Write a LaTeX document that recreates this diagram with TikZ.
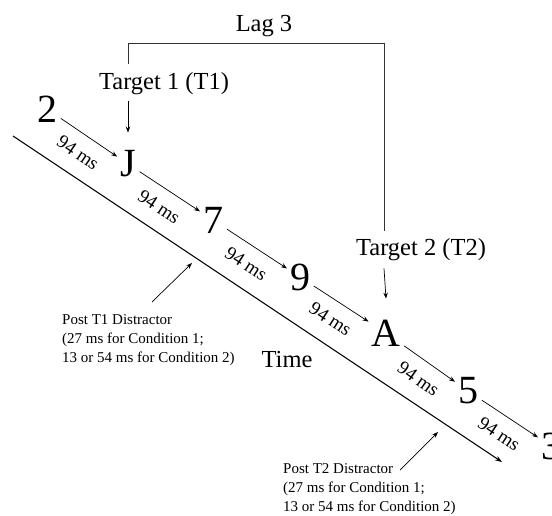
\documentclass[tikz,border=0pt]{standalone}
\usepackage{fontspec}
\setmainfont{Liberation Serif}
\usetikzlibrary{arrows.meta,calc}
\begin{document}
\begin{tikzpicture}[x=1pt,y=-1pt,
  letter/.style={font=\fontsize{40}{40}\selectfont, inner sep=2pt},
  label/.style={font=\fontsize{24.5}{26}\selectfont, inner sep=1pt},
  small/.style={font=\fontsize{15}{19}\selectfont, align=left, inner sep=0pt, anchor=north west},
  dur/.style={font=\fontsize{19}{19}\selectfont, midway, sloped, below=11pt, inner sep=1pt},
  seq/.style={-{Stealth[length=6pt,width=4.5pt]}, line width=0.7pt, shorten <=2pt, shorten >=1pt},
  ptr/.style={-{Stealth[length=6pt,width=4.5pt]}, line width=0.7pt},
  brk/.style={line width=0.7pt, draw=black!80}]
\useasboundingbox (0,0) rectangle (552,515);
% letters
\node[letter] (d2) at (47,109) {2};
\node[letter] (dJ) at (128,164) {J};
\node[letter] (d7) at (213,220) {7};
\node[letter] (d9) at (300,277) {9};
\node[letter] (dA) at (386,333) {A};
\node[letter] (d5) at (468,391) {5};
\node[letter] (d3) at (551,446) {3};
% labels
\node[label] (lag) at (264,26) {Lag 3};
\node[label] (t1) at (164,84) {Target 1 (T1)};
\node[label] (t2) at (421,250) {Target 2 (T2)};
\node[label] (time) at (287,360) {Time};
% sequence arrows
\draw[seq] (d2) -- (dJ) node[dur] {94 ms};
\draw[seq] (dJ) -- (d7) node[dur] {94 ms};
\draw[seq] (d7) -- (d9) node[dur] {94 ms};
\draw[seq] (d9) -- (dA) node[dur] {94 ms};
\draw[seq] (dA) -- (d5) node[dur] {94 ms};
\draw[seq] (d5) -- (d3) node[dur] {94 ms};
% lag bracket
\coordinate (lagL) at (128,43);
\coordinate (lagR) at (384,43);
\draw[brk] ($(lagL |- t1.north)+(0,-8)$) -- (lagL) -- (lagR) -- ($(lagR |- t2.north)+(0,-7)$);
% target arrows
\draw[ptr] ($(dJ |- t1.south)+(0,5)$) -- ($(dJ.north)+(0,-16)$);
\draw[ptr] ($(lagR |- t2.south)+(0,6)$) -- ($(dA.north)+(0,-19)$);
% time axis
\coordinate (ts) at (13,136);
\coordinate (te) at (502,462);
\draw[-{Stealth[length=7pt,width=5pt]}, line width=1.1pt] (ts) -- (te);
% distractors
\node[small] (p1) at (62,314) {Post T1 Distractor\\(27 ms for Condition 1;\\13 or 54 ms for Condition 2)};
\node[small] (p2) at (283,463) {Post T2 Distractor\\(27 ms for Condition 1;\\13 or 54 ms for Condition 2)};
\coordinate (p1tip) at (192,263);
\coordinate (p2tip) at (438,432);
\draw[ptr] (152,302) -- (p1tip);
\draw[ptr] (400,470) -- (p2tip);
\end{tikzpicture}
\end{document}
